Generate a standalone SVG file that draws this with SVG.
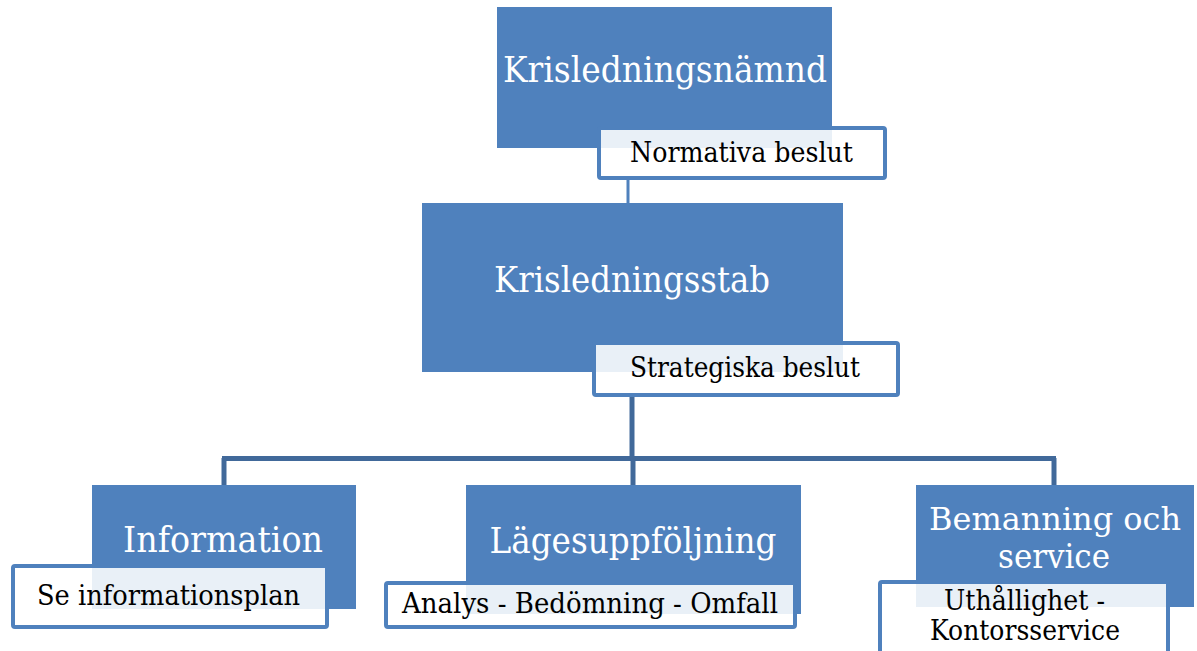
<svg xmlns="http://www.w3.org/2000/svg" width="1197" height="651" viewBox="0 0 1197 651">
<style>
.box{fill:#4f81bd}
.lbl{fill:#ffffff;fill-opacity:0.88;stroke:#4f81bd;stroke-width:4}
.t{font-family:"DejaVu Serif","Liberation Serif",serif;fill:#ffffff;font-size:35px;text-anchor:middle}
.s{font-family:"DejaVu Serif","Liberation Serif",serif;fill:#000000;font-size:27px}
.c{stroke:#41699a;stroke-width:5;fill:none}
</style>
<rect width="1197" height="651" fill="#ffffff"/>
<g id="connectors">
<line x1="628" y1="180" x2="628" y2="205" style="stroke:#4f81bd;stroke-width:3"/>
<line class="c" x1="632" y1="397" x2="632" y2="460"/>
<line class="c" x1="222" y1="458.5" x2="1056" y2="458.5"/>
<line class="c" x1="224" y1="458" x2="224" y2="486"/>
<line class="c" x1="633" y1="458" x2="633" y2="486"/>
<line class="c" x1="1054" y1="458" x2="1054" y2="486"/>
</g>
<g id="krisledningsnamnd">
<rect class="box" x="497" y="7" width="335" height="141"/>
<text class="t" x="665" y="82" textLength="324" lengthAdjust="spacingAndGlyphs">Krisledningsnämnd</text>
<rect class="lbl" x="599" y="128" width="286" height="50" rx="2"/>
<text class="s" x="630" y="162" textLength="223" lengthAdjust="spacingAndGlyphs">Normativa beslut</text>
</g>
<g id="krisledningsstab">
<rect class="box" x="422" y="203" width="421" height="169"/>
<text class="t" x="632" y="292" textLength="276" lengthAdjust="spacingAndGlyphs">Krisledningsstab</text>
<rect class="lbl" x="594" y="343" width="304" height="52" rx="2"/>
<text class="s" x="630" y="377" textLength="230" lengthAdjust="spacingAndGlyphs">Strategiska beslut</text>
</g>
<g id="information">
<rect class="box" x="92" y="485" width="264" height="124"/>
<text class="t" x="223" y="552" textLength="200" lengthAdjust="spacingAndGlyphs">Information</text>
<rect class="lbl" x="13" y="566" width="314" height="61" rx="2"/>
<text class="s" x="37" y="605" textLength="263" lengthAdjust="spacingAndGlyphs">Se informationsplan</text>
</g>
<g id="lagesuppfoljning">
<rect class="box" x="466" y="485" width="335" height="129"/>
<text class="t" x="633" y="553" textLength="287" lengthAdjust="spacingAndGlyphs">Lägesuppföljning</text>
<rect class="lbl" x="386" y="583" width="409" height="44" rx="2"/>
<text class="s" x="402" y="613" textLength="376" lengthAdjust="spacingAndGlyphs">Analys - Bedömning - Omfall</text>
</g>
<g id="bemanning">
<rect class="box" x="916" y="485" width="278" height="122"/>
<text class="t" x="1055" y="530" textLength="252" lengthAdjust="spacingAndGlyphs" style="font-size:31px">Bemanning och</text>
<text class="t" x="1054" y="568" textLength="112" lengthAdjust="spacingAndGlyphs" style="font-size:33px">service</text>
<rect class="lbl" x="880" y="582" width="288" height="72" rx="2"/>
<text class="s" x="944" y="610" textLength="161" lengthAdjust="spacingAndGlyphs">Uthållighet -</text>
<text class="s" x="930" y="640" textLength="190" lengthAdjust="spacingAndGlyphs">Kontorsservice</text>
</g>
</svg>
